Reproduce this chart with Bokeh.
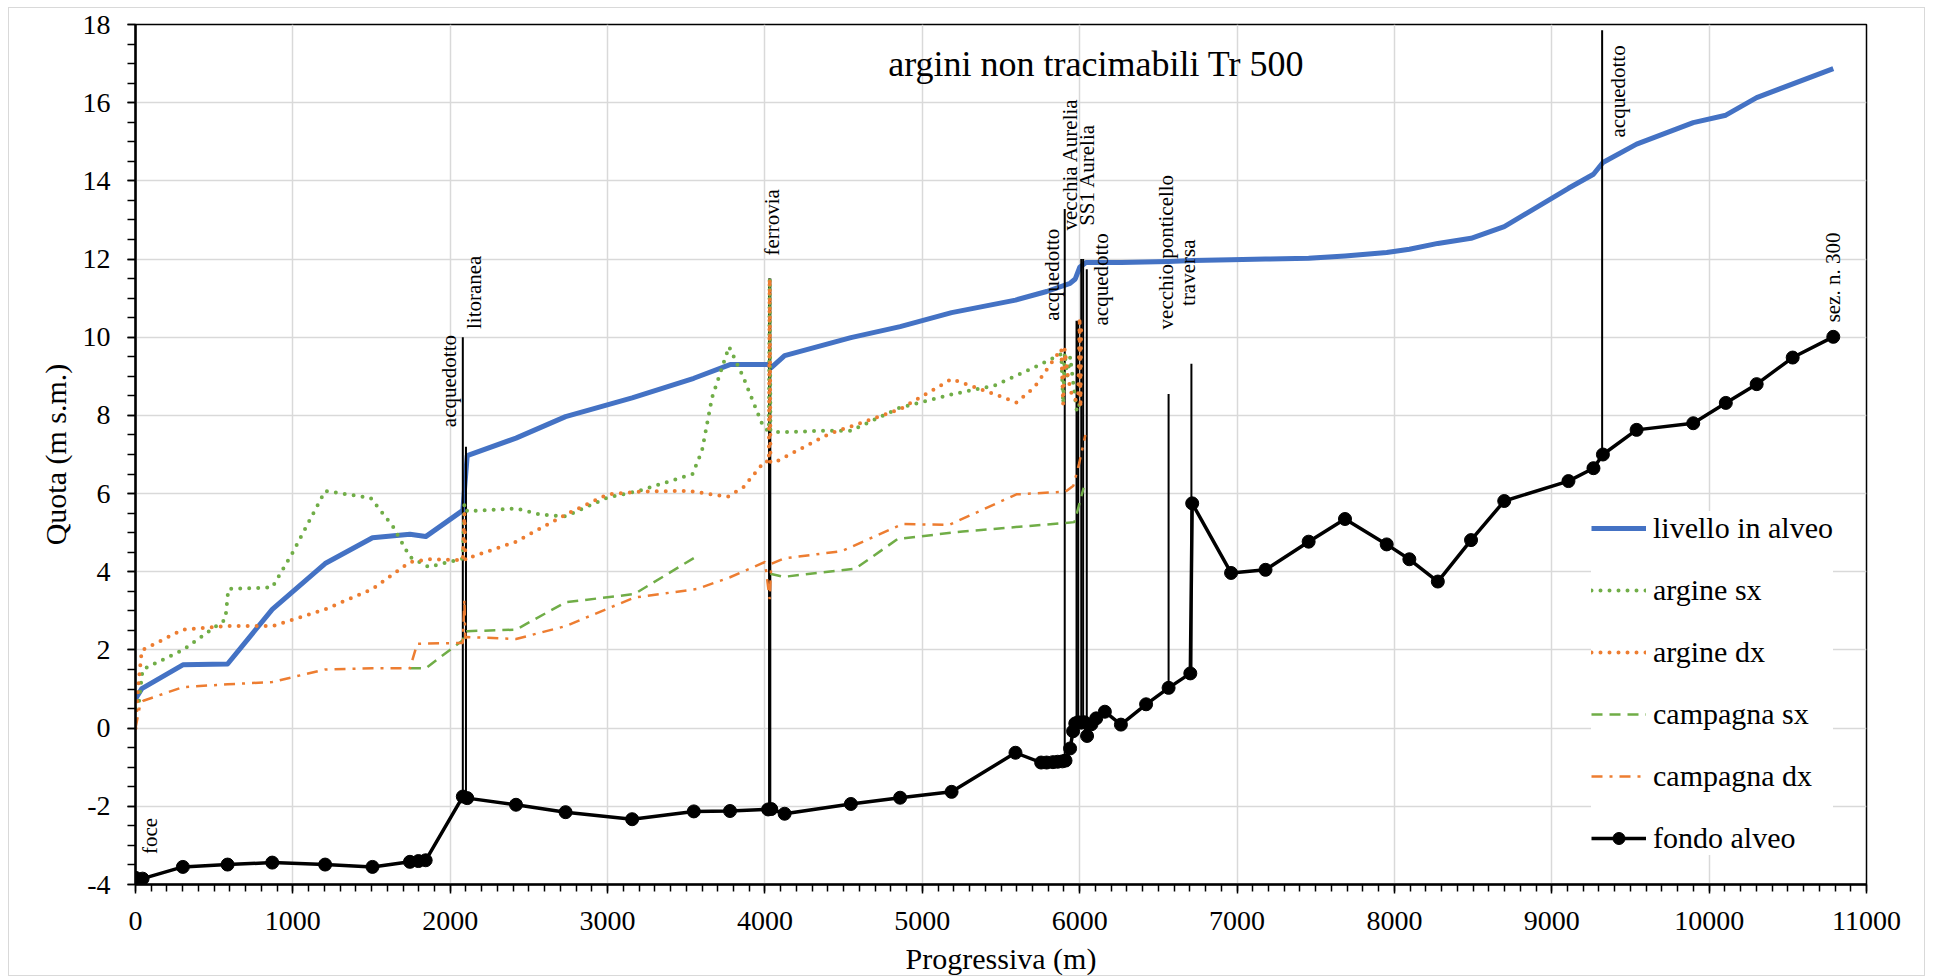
import math
from bokeh.plotting import figure
from bokeh.models import Range1d, FixedTicker, Label, Legend, LegendItem
from bokeh.core.properties import value
from bokeh.embed import file_html
from bokeh.resources import INLINE

FONT = "Liberation Serif"
NaN = float("nan")

# ---------------- data ----------------
x_ticks = [0, 1000, 2000, 3000, 4000, 5000, 6000, 7000, 8000, 9000, 10000, 11000]
y_ticks = [-4, -2, 0, 2, 4, 6, 8, 10, 12, 14, 16, 18]

liv_x = [0, 40, 301, 585, 869, 1205, 1506, 1744, 1844, 2080, 2108, 2418, 2733, 3156, 3548,
         3778, 4020, 4040, 4125, 4546, 4859, 5186, 5592, 5790, 5939, 5972, 6000, 6040, 6262,
         6565, 6715, 6962, 7181, 7455, 7686, 7951, 8095, 8276, 8487, 8698, 9106, 9265, 9325,
         9539, 9899, 10106, 10302, 10789]
liv_y = [0.75, 1.01, 1.62, 1.64, 3.04, 4.21, 4.87, 4.96, 4.90, 5.57, 6.97, 7.42, 7.97, 8.45, 8.95,
         9.30, 9.30, 9.22, 9.53, 9.99, 10.27, 10.63, 10.95, 11.17, 11.38, 11.49, 11.79, 11.91, 11.91,
         11.94, 11.96, 11.98, 12.00, 12.02, 12.08, 12.17, 12.25, 12.40, 12.53, 12.83, 13.81, 14.17, 14.47,
         14.94, 15.49, 15.68, 16.13, 16.87]

asx_x = [0, 20, 45, 301, 571, 590, 869, 1000, 1205, 1494, 1636, 1744, 1864, 2080, 2090, 2108,
         2418, 2574, 2733, 3000, 3199, 3540, 3600, 3664, 3772, 3863, 3991, 4025, 4030, 4035,
         4091, 4404, 4546, 4859, 5200, 5456, 5712, 5883, 5895, 5905, 5920, 5940, 5960, 5982, 6000]
asx_y = [0.5, 0.6, 1.5, 2.0, 2.78, 3.56, 3.6, 4.5, 6.07, 5.89, 5.16, 4.38, 4.12, 4.34, 5.74, 5.55,
         5.62, 5.46, 5.42, 5.9, 6.07, 6.5, 7.1, 8.46, 9.76, 8.97, 7.69, 7.6, 11.5, 7.6,
         7.57, 7.61, 7.61, 8.2, 8.55, 8.76, 9.23, 9.57, 8.3, 9.6, 9.0, 9.5, 8.8, 8.1, 8.3]

adx_x = [0, 17, 40, 301, 571, 869, 1205, 1506, 1744, 1864, 2080, 2090, 2097, 2108, 2418, 2733,
         3000, 3199, 3511, 3764, 3863, 4000, 4025, 4030, 4035, 4063, 4404, 4859, 5186, 5428,
         5598, 5712, 5883, 5895, 5905, 5925, 5945, 5965, 5990, 6000, 6005, 6010]
adx_y = [0.0, 1.05, 1.99, 2.52, 2.61, 2.61, 3.04, 3.56, 4.25, 4.32, 4.30, 5.5, 4.3, 4.34, 4.77, 5.46,
         5.98, 6.05, 6.07, 5.92, 6.16, 6.84, 6.8, 11.5, 6.8, 6.80, 7.52, 8.16, 8.93, 8.59,
         8.33, 8.72, 9.70, 8.29, 9.7, 9.0, 8.6, 8.4, 8.4, 10.5, 8.2, 10.4]

csx_x = [1744, 1844, 2080, 2095, 2108, 2418, 2733, 3170,
         3568, 3800, 4034, 4119, 4574, 4844, 5256, 5967, 6025]
csx_y = [1.53, 1.53, 2.25, 2.45, 2.48, 2.52, 3.22, 3.43,
         4.40, NaN, 3.95, 3.87, 4.08, 4.84, 5.03, 5.27, 6.15]

cdx_x = [0, 30, 50, 301, 585, 869, 1205, 1506, 1744, 1790, 2080, 2090, 2096, 2108, 2418, 2733,
         3170, 3568, 3778, 4000, 4030, 4040, 4119, 4489, 4873, 5171, 5598, 5911, 5960, 5996, 6036]
cdx_y = [0.0, 0.6, 0.7, 1.05, 1.12, 1.18, 1.50, 1.53, 1.53, 2.16, 2.18, 3.3, 2.3, 2.33, 2.28, 2.61,
         3.34, 3.56, 3.86, 4.25, 3.3, 4.2, 4.34, 4.53, 5.22, 5.20, 5.98, 6.05, 6.2, 6.76, 7.5]

fondo_x = [0, 45, 301, 585, 869, 1205, 1506, 1744, 1798, 1844, 2080, 2108, 2418, 2733, 3156,
           3548, 3778, 4020, 4040, 4125, 4546, 4859, 5186, 5592, 5755, 5790, 5830, 5860, 5890,
           5910, 5939, 5958, 5972, 5990, 6010, 6030, 6047, 6075, 6105, 6160, 6262, 6422, 6565,
           6703, 6715, 6962, 7181, 7455, 7686, 7951, 8095, 8276, 8487, 8698, 9106, 9265, 9325,
           9539, 9899, 10106, 10302, 10531, 10789]
fondo_y = [-3.83, -3.85, -3.55, -3.49, -3.44, -3.49, -3.55, -3.42, -3.40, -3.38, -1.75, -1.79, -1.96, -2.15, -2.33,
           -2.13, -2.12, -2.08, -2.07, -2.19, -1.94, -1.78, -1.63, -0.63, -0.88, -0.88, -0.87, -0.86, -0.85,
           -0.83, -0.52, -0.08, 0.12, 0.15, 0.14, 0.15, -0.20, 0.10, 0.25, 0.42, 0.09, 0.61, 1.03,
           1.40, 5.75, 3.97, 4.05, 4.77, 5.35, 4.70, 4.32, 3.75, 4.81, 5.81, 6.32, 6.65, 7.00,
           7.63, 7.80, 8.32, 8.80, 9.48, 10.01]

# structures (vertical markers)
str_x = [2080, 2100, 4026, 4034, 5905, 5980, 5990, 6010, 6022, 6045, 6565, 6710, 9320]
str_y0 = [-1.75, -1.79, -2.08, -2.07, -0.84, 0.12, 0.15, 0.14, 0.15, -0.20, 1.03, 1.40, 6.95]
str_y1 = [10.0, 7.2, 11.5, 11.5, 13.28, 10.42, 10.42, 12.0, 12.0, 11.74, 8.55, 9.32, 17.85]

lab_text = ["foce", "acquedotto", "litoranea", "ferrovia", "acquedotto", "vecchia  Aurelia",
            "SS1 Aurelia", "acquedotto", "vecchio ponticello", "traversa", "acquedotto", "sez. n. 300"]
lab_x = [90, 1993, 2149, 4043, 5825, 5938, 6046, 6137, 6548, 6690, 9421, 10784]
lab_y = [-3.22, 7.70, 10.21, 12.09, 10.42, 12.73, 12.85, 10.30, 10.20, 10.80, 15.11, 10.38]

title_text = "argini non tracimabili Tr 500"

BLUE = "#4472C4"
GREEN = "#70AD47"
ORANGE = "#ED7D31"

# ---------------- figure ----------------
p = figure(width=1917, height=969, output_backend="svg", toolbar_location=None,
           x_range=Range1d(0, 11000), y_range=Range1d(-4, 18),
           min_border_left=126, min_border_right=60, min_border_top=16, min_border_bottom=93)
p.styles = {"border": "1px solid #d9d9d9", "margin-left": "8px", "margin-top": "7px"}
p.background_fill_color = "white"
p.border_fill_color = "white"
p.outline_line_color = "black"
p.outline_line_width = 1.5

p.xaxis.ticker = FixedTicker(ticks=x_ticks, minor_ticks=list(range(0, 11001, 100)))
p.yaxis.ticker = FixedTicker(ticks=y_ticks, minor_ticks=[-4 + 0.5 * i for i in range(45)])
p.xaxis.major_label_overrides = {t: str(t) for t in x_ticks}
p.yaxis.major_label_overrides = {t: str(t) for t in y_ticks}
p.xaxis.axis_label = "Progressiva (m)"
p.yaxis.axis_label = "Quota (m s.m.)"

for ax in (p.xaxis[0], p.yaxis[0]):
    ax.axis_line_color = "black"
    ax.axis_line_width = 2.5
    ax.major_tick_line_color = "black"
    ax.major_tick_line_width = 1.5
    ax.minor_tick_line_color = "black"
    ax.minor_tick_line_width = 1.5
    ax.major_tick_in = 0
    ax.minor_tick_in = 0
    ax.major_label_text_font = FONT
    ax.major_label_text_font_size = "28px"
    ax.major_label_text_color = "black"
    ax.axis_label_text_font = FONT
    ax.axis_label_text_font_style = "normal"
    ax.axis_label_text_font_size = "30px"
    ax.axis_label_text_color = "black"

p.xaxis.major_tick_out = 9
p.xaxis.minor_tick_out = 7
p.xaxis.major_label_standoff = 18
p.xaxis.axis_label_standoff = 9
p.yaxis.major_tick_out = 8
p.yaxis.minor_tick_out = 8
p.yaxis.major_label_standoff = 17
p.yaxis.axis_label_standoff = 8

p.xgrid.grid_line_color = "#d9d9d9"
p.xgrid.grid_line_width = 1.5
p.ygrid.grid_line_color = "#d9d9d9"
p.ygrid.grid_line_width = 1.5

# ---------------- glyphs ----------------
r_liv = p.line(liv_x, liv_y, line_color=BLUE, line_width=5, line_join="round")
p.segment(x0=str_x, y0=str_y0, x1=str_x, y1=str_y1, line_color="black", line_width=2)
r_asx = p.line(asx_x, asx_y, line_color=GREEN, line_width=4, line_dash="0 9", line_cap="round")
r_adx = p.line(adx_x, adx_y, line_color=ORANGE, line_width=4, line_dash="0 9", line_cap="round")
r_csx = p.line(csx_x, csx_y, line_color=GREEN, line_width=2.5, line_dash="11 7")
r_cdx = p.line(cdx_x, cdx_y, line_color=ORANGE, line_width=2.5, line_dash="11 7 3 7")
r_fl = p.line(fondo_x, fondo_y, line_color="black", line_width=3.5, line_join="round")
r_fm = p.scatter(fondo_x, fondo_y, marker="circle", size=13, fill_color="black", line_color="black")

p.text(x=lab_x, y=lab_y, text=lab_text, angle=math.pi / 2, text_align="left",
       text_baseline="middle", text_font=value(FONT), text_font_size="21px", text_color="black")

p.add_layout(Label(x=6105, y=17.0, text=title_text, text_align="center", text_baseline="middle",
                   text_font=FONT, text_font_size="36px", text_color="black"))

legend = Legend(items=[
    LegendItem(label="livello in alveo", renderers=[r_liv]),
    LegendItem(label="argine sx", renderers=[r_asx]),
    LegendItem(label="argine dx", renderers=[r_adx]),
    LegendItem(label="campagna sx", renderers=[r_csx]),
    LegendItem(label="campagna dx", renderers=[r_cdx]),
    LegendItem(label="fondo alveo", renderers=[r_fl, r_fm]),
], location=(1456, 29))
legend.background_fill_color = "white"
legend.background_fill_alpha = 1.0
legend.border_line_color = None
legend.label_text_font = FONT
legend.label_text_font_size = "30px"
legend.label_text_color = "black"
legend.glyph_width = 55
legend.glyph_height = 30
legend.label_height = 30
legend.label_standoff = 7
legend.spacing = 28
legend.padding = 16
legend.margin = 0
p.add_layout(legend, "center")

open("out.html", "w").write(file_html(p, INLINE))
